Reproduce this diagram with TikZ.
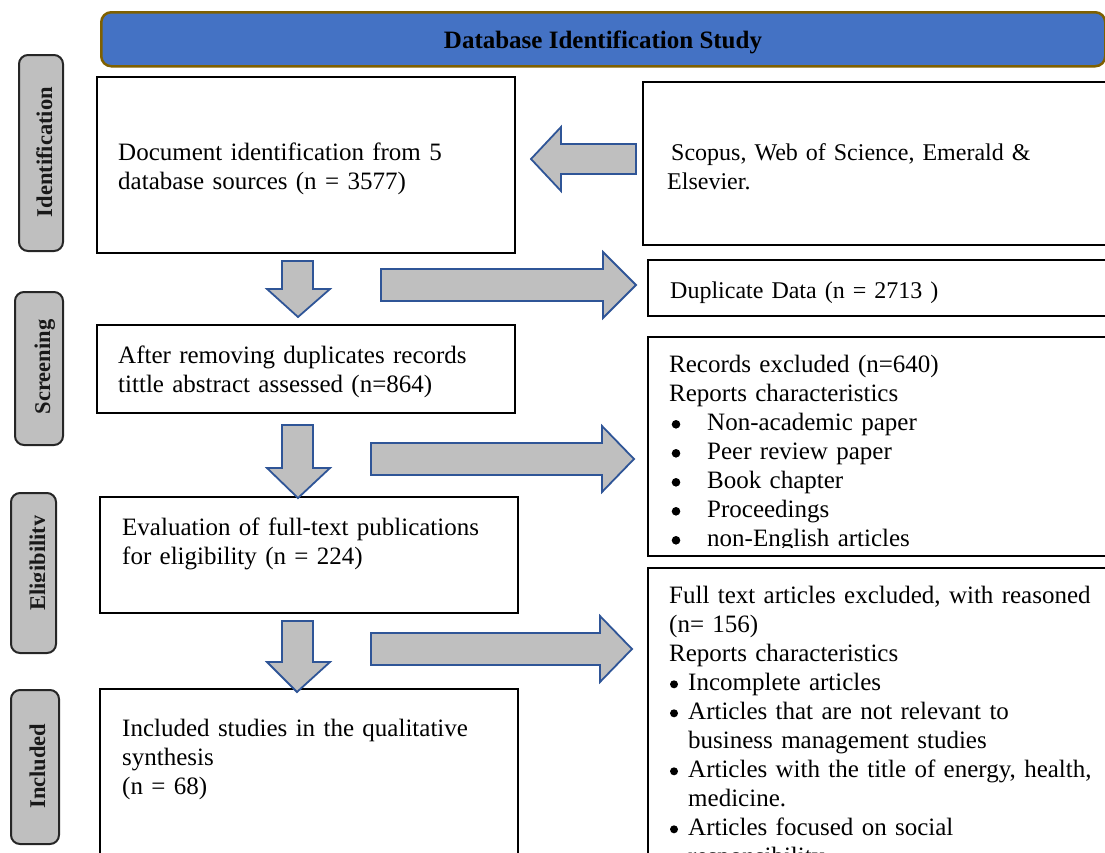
\documentclass[tikz,border=0pt]{standalone}
\usepackage{fontspec}
\setmainfont{Liberation Serif}
\definecolor{titleblue}{HTML}{4472C4}
\definecolor{titlebrown}{HTML}{7F6000}
\definecolor{arrowblue}{HTML}{2F5597}
\definecolor{arrowgray}{HTML}{BFBFBF}
\definecolor{sidegray}{HTML}{BFBFBF}
\begin{document}
\begin{tikzpicture}[x=1pt,y=-1pt,
  box/.style={draw=black,line width=2pt,fill=white,inner sep=0pt,outer sep=0pt,anchor=north west},
  side/.style={draw=black!85,line width=2pt,fill=sidegray,rounded corners=9pt,inner sep=0pt,anchor=north west},
  sidetext/.style={font=\fontsize{22.5}{26}\selectfont\bfseries,text=black!90,rotate=90,inner sep=0pt,anchor=base},
  btext/.style={font=\fontsize{25}{29}\selectfont,anchor=base west,inner sep=0pt,text width=#1,align=left},
  btext/.default=440pt,
  ntext/.style={font=\fontsize{24}{29}\selectfont,anchor=base west,inner sep=0pt,text width=#1,align=left},
  ntext/.default=440pt,
  bul/.style={fill=black},
  barrow/.style={draw=arrowblue,line width=1.8pt,fill=arrowgray,line join=miter}]
\useasboundingbox (0,0) rectangle (1105,852);

% title bar
\node[draw=titlebrown,line width=2.5pt,fill=titleblue,rounded corners=10pt,minimum width=1004pt,minimum height=54pt,inner sep=0pt,anchor=north west] (title) at (100,11) {};
\node[font=\fontsize{25}{29}\selectfont\bfseries,anchor=base,inner sep=0pt] (titletext) at (603,48) {Database Identification Study};

% side labels
\node[side,minimum width=44pt,minimum height=196pt] (sid) at (18,54) {};
\node[sidetext] (sidt) at (52,152) {Identification};
\node[side,minimum width=48pt,minimum height=153pt] (sscr) at (14,291) {};
\node[sidetext] (sscrt) at (50,367) {Screening};
\node[side,minimum width=45pt,minimum height=160pt] (selig) at (10,492) {};
\begin{scope}
\clip (10,492) rectangle (44.5,652);
\node[sidetext] (seligt) at (45,563) {Eligibility};
\end{scope}
\node[side,minimum width=48pt,minimum height=154pt] (sinc) at (10,689) {};
\node[sidetext] (sinct) at (45,766) {Included};

% left boxes
\node[box,minimum width=418pt,minimum height=176pt] (b1) at (97,77) {};
\node[box,minimum width=418pt,minimum height=88pt] (b2) at (97,325) {};
\node[box,minimum width=418pt,minimum height=116pt] (b3) at (100,497) {};
\node[box,minimum width=418pt,minimum height=190pt] (b4) at (100,689) {};

% right boxes
\node[box,minimum width=475pt,minimum height=163pt] (r1) at (643,82) {};
\node[box,minimum width=470pt,minimum height=56pt] (r2) at (648,260) {};
\node[box,minimum width=470pt,minimum height=219pt] (r3) at (648,337) {};
\node[box,minimum width=470pt,minimum height=300pt] (r4) at (648,568) {};

% texts
\node[btext] (b1t) at (118,160) {Document identification from 5\\database sources (n = 3577)};
\node[ntext] (r1t) at (667,160) {\hspace*{4pt}Scopus, Web of Science, Emerald \&\\Elsevier.};
\node[ntext] (r2t) at (670,298) {Duplicate Data (n = 2713 )};
\node[btext] (b2t) at (118,363) {After removing duplicates records\\tittle abstract assessed (n=864)};
\begin{scope}
\clip (648,337) rectangle (1105,547);
\node[btext] (r3t) at (669,372) {Records excluded (n=640)\\Reports characteristics\\
\hspace*{38pt}Non-academic paper\\
\hspace*{38pt}Peer review paper\\
\hspace*{38pt}Book chapter\\
\hspace*{38pt}Proceedings\\
\hspace*{38pt}non-English articles};
\foreach \yy in {424.3,453.3,482.3,511.3,540.3}
  \fill[bul] (676,\yy) circle (4.3);
\end{scope}
\node[btext] (b3t) at (122,535) {Evaluation of full-text publications\\for eligibility (n = 224)};
\node[btext] (r4t) at (669,603) {Full text articles excluded, with reasoned\\(n= 156)\\Reports characteristics\\
\hspace*{19pt}Incomplete articles\\
\hspace*{19pt}Articles that are not relevant to\\
\hspace*{19pt}business management studies\\
\hspace*{19pt}Articles with the title of energy, health,\\
\hspace*{19pt}medicine.\\
\hspace*{19pt}Articles focused on social\\
\hspace*{19pt}responsibility};
\foreach \yy in {684.3,713.3,771.3,829.3}
  \fill[bul] (674,\yy) circle (4);
\node[btext] (b4t) at (122,736) {Included studies in the qualitative\\synthesis\\(n = 68)};

% block arrows
\draw[barrow] (531,159) -- (561,127) -- (561,144) -- (636,144) -- (636,174) -- (561,174) -- (561,191) -- cycle;
\draw[barrow] (282,261) -- (313,261) -- (313,289) -- (330,289) -- (298,317) -- (267,289) -- (282,289) -- cycle;
\draw[barrow] (381,269) -- (603,269) -- (603,252) -- (636,285) -- (603,318) -- (603,301) -- (381,301) -- cycle;
\draw[barrow] (282,425) -- (313,425) -- (313,468) -- (330,468) -- (298,498) -- (267,468) -- (282,468) -- cycle;
\draw[barrow] (371,443) -- (602,443) -- (602,426) -- (634,459) -- (602,492) -- (602,475) -- (371,475) -- cycle;
\draw[barrow] (282,621) -- (313,621) -- (313,662) -- (330,662) -- (297,692) -- (267,662) -- (282,662) -- cycle;
\draw[barrow] (371,633) -- (600,633) -- (600,616) -- (632,649) -- (600,682) -- (600,665) -- (371,665) -- cycle;
\end{tikzpicture}
\end{document}
